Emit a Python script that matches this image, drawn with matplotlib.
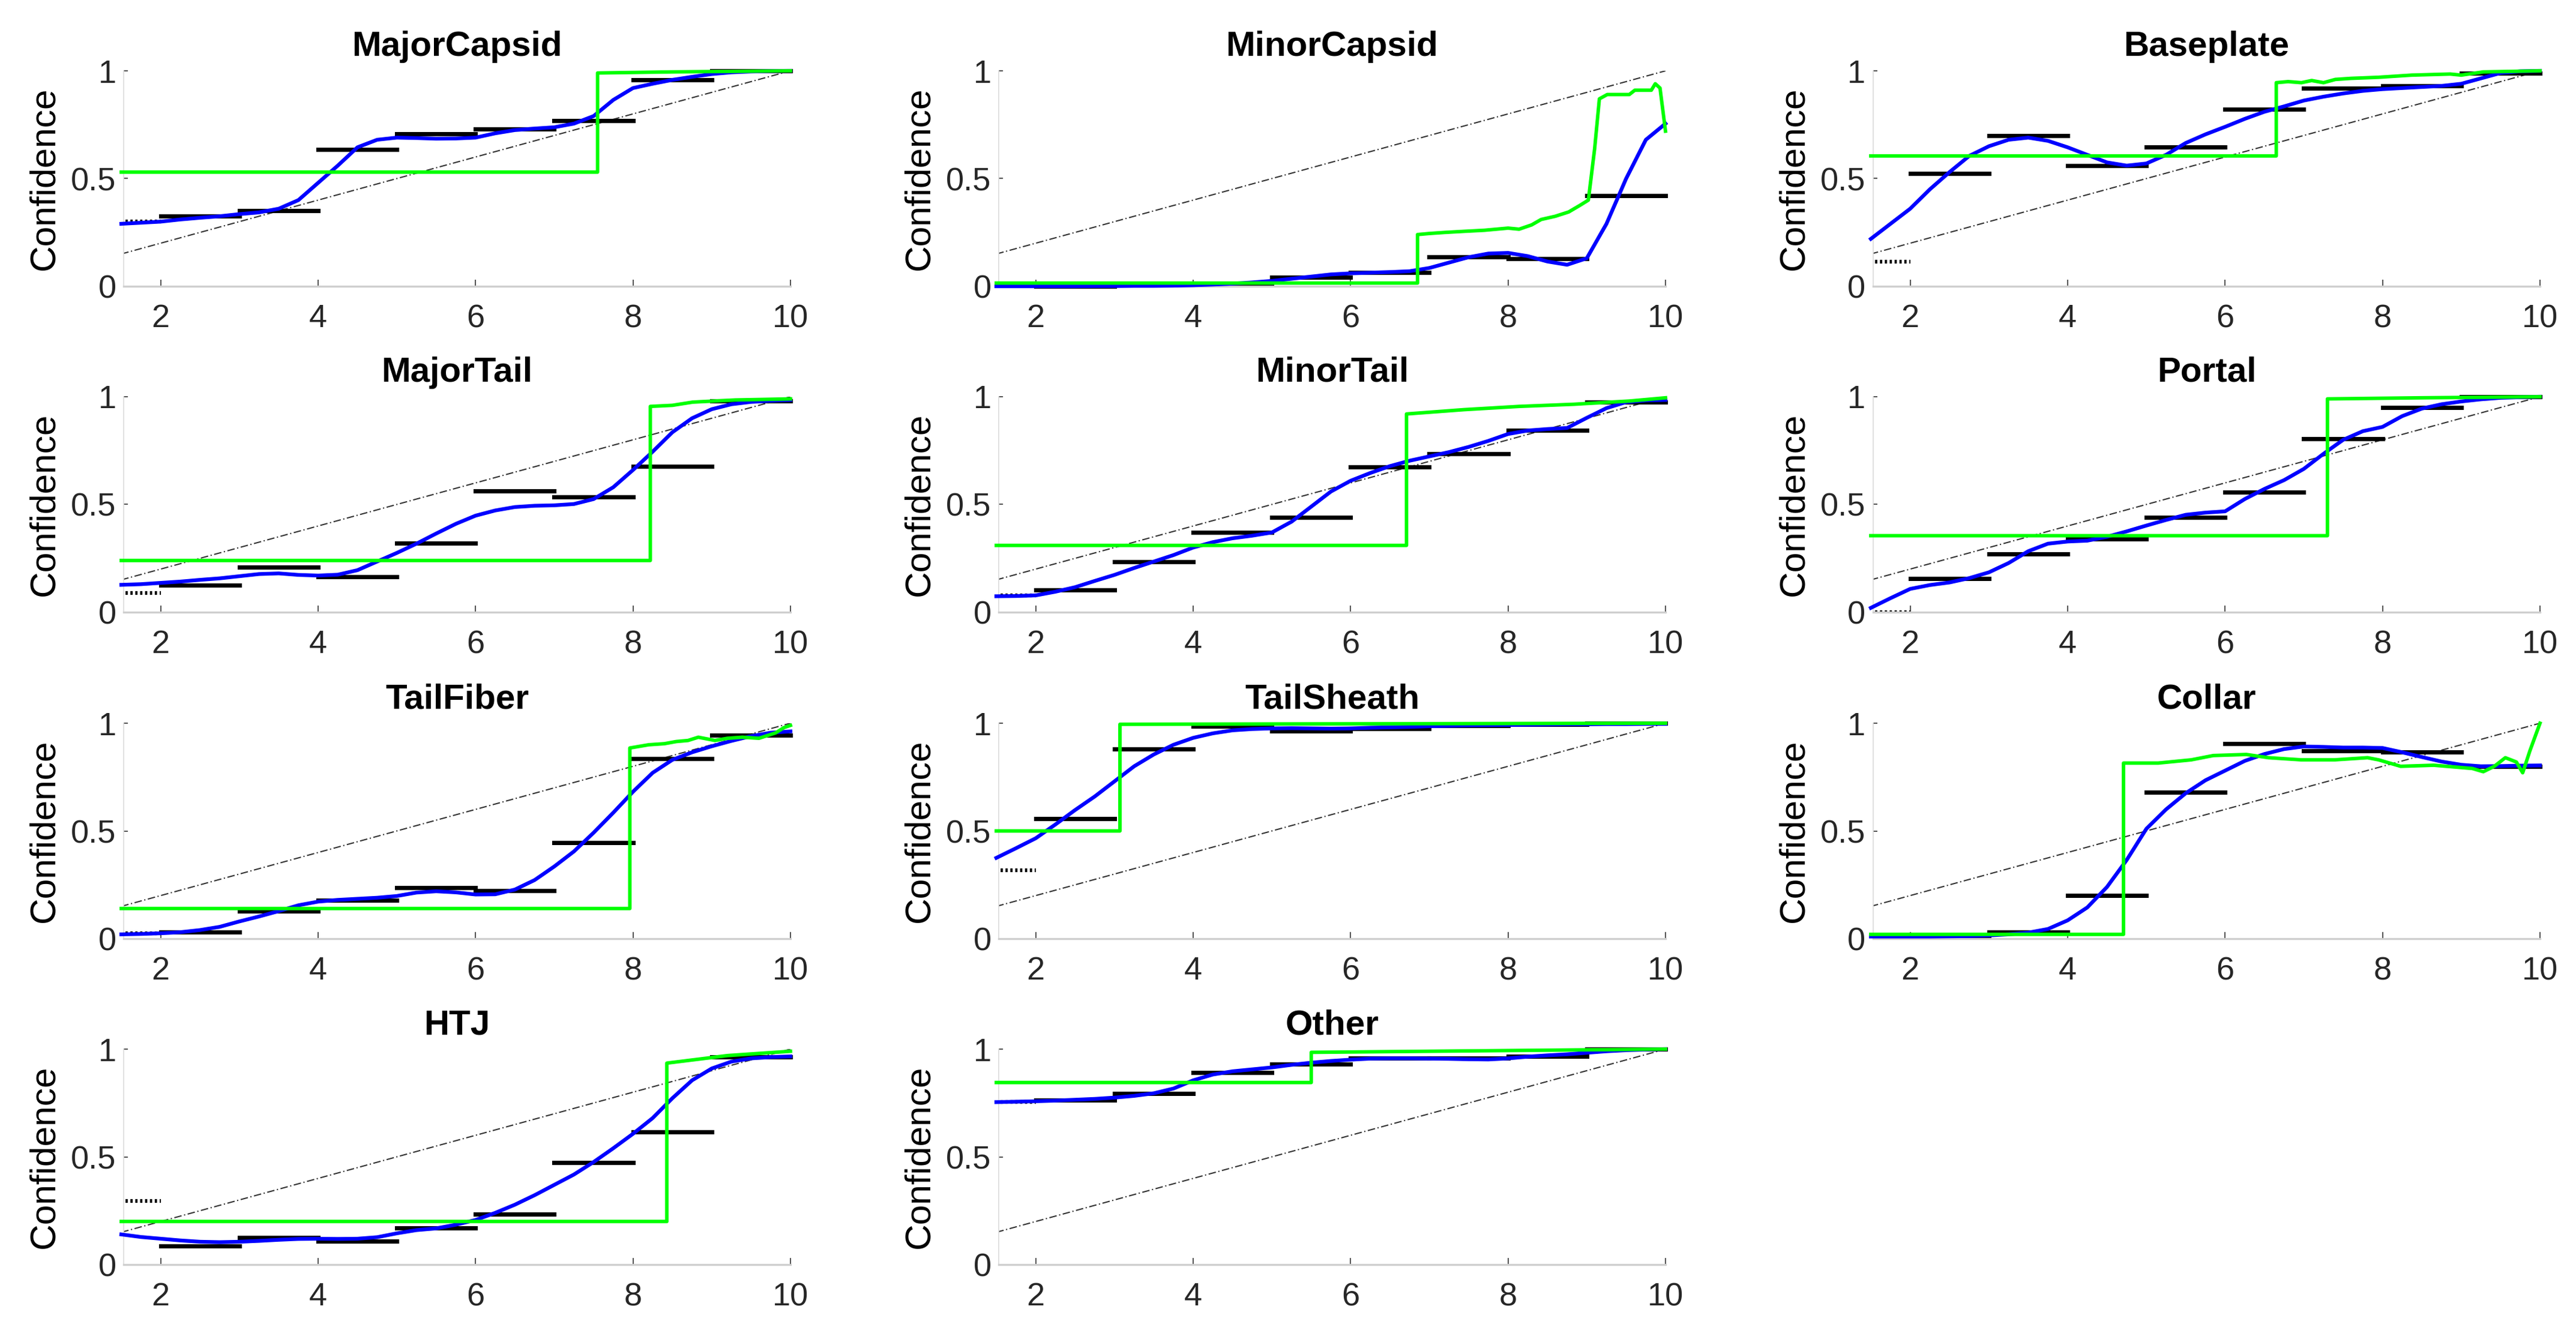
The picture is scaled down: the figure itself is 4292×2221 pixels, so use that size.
import matplotlib
matplotlib.use('Agg')
import matplotlib.pyplot as plt

plt.rcParams['font.family'] = ['Liberation Sans', 'DejaVu Sans']

# panel names, in reading order
PANELS = ['MajorCapsid', 'MinorCapsid', 'Baseplate',
          'MajorTail', 'MinorTail', 'Portal',
          'TailFiber', 'TailSheath', 'Collar',
          'HTJ', 'Other']

# bin edges for the black step segments (first bin drawn dotted)
BIN_EDGES = [1, 2, 3, 4, 5, 6, 7, 8, 9, 10]

# x grid of the blue curves
CURVE_X = [1.5, 1.75, 2.0, 2.25, 2.5, 2.75, 3.0, 3.25, 3.5, 3.75, 4.0, 4.25,
           4.5, 4.75, 5.0, 5.25, 5.5, 5.75, 6.0, 6.25, 6.5, 6.75, 7.0, 7.25,
           7.5, 7.75, 8.0, 8.25, 8.5, 8.75, 9.0, 9.25, 9.5, 9.75, 10.0]

# ---- MajorCapsid
majorcapsid_bins = [0.30, 0.327, 0.352, 0.635, 0.708, 0.73, 0.768, 0.957, 1.0]
majorcapsid_blue = [0.29, 0.295, 0.30, 0.31, 0.318, 0.325, 0.335, 0.343, 0.36, 0.40,
                    0.48, 0.56, 0.645, 0.68, 0.69, 0.688, 0.685, 0.686, 0.69, 0.71,
                    0.725, 0.732, 0.738, 0.755, 0.79, 0.865, 0.92, 0.94, 0.958, 0.972,
                    0.985, 0.993, 0.997, 0.999, 1.0]
majorcapsid_green_x = [1.5, 7.55, 7.55, 8.5, 10.0]
majorcapsid_green_y = [0.53, 0.53, 0.99, 0.995, 1.0]

# ---- MinorCapsid
minorcapsid_bins = [0.0, 0.0, 0.005, 0.012, 0.042, 0.065, 0.137, 0.127, 0.42]
minorcapsid_blue = [0.0, 0.0, 0.0, 0.0, 0.0, 0.001, 0.001, 0.002, 0.002, 0.003,
                    0.005, 0.008, 0.012, 0.018, 0.025, 0.035, 0.045, 0.055, 0.06, 0.063,
                    0.066, 0.07, 0.085, 0.11, 0.135, 0.152, 0.155, 0.14, 0.115, 0.10,
                    0.13, 0.29, 0.50, 0.68, 0.755]
minorcapsid_green_x = [1.5, 6.85, 6.85, 7.0, 7.2, 7.44, 7.7, 8.0, 8.14, 8.3, 8.42, 8.6,
                       8.77, 8.91, 9.02, 9.1, 9.16, 9.26, 9.54, 9.61, 9.82, 9.87, 9.93, 10.0]
minorcapsid_green_y = [0.015, 0.015, 0.24, 0.245, 0.25, 0.255, 0.26, 0.27, 0.265, 0.285,
                       0.31, 0.325, 0.345, 0.375, 0.40, 0.64, 0.87, 0.89, 0.89, 0.91,
                       0.91, 0.94, 0.92, 0.72]

# ---- Baseplate
baseplate_bins = [0.115, 0.525, 0.70, 0.56, 0.647, 0.823, 0.92, 0.93, 0.99]
baseplate_blue = [0.22, 0.29, 0.36, 0.45, 0.53, 0.605, 0.65, 0.68, 0.69, 0.675,
                  0.645, 0.61, 0.575, 0.56, 0.57, 0.61, 0.665, 0.705, 0.74, 0.777,
                  0.81, 0.835, 0.862, 0.88, 0.895, 0.907, 0.915, 0.92, 0.925, 0.93,
                  0.94, 0.965, 0.99, 0.998, 1.0]
baseplate_green_x = [1.5, 6.65, 6.65, 6.8, 6.97, 7.1, 7.25, 7.4, 7.6, 7.95, 8.37, 8.86,
                     9.0, 9.28, 10.0]
baseplate_green_y = [0.605, 0.605, 0.945, 0.95, 0.945, 0.955, 0.945, 0.96, 0.965, 0.97,
                     0.98, 0.985, 0.98, 0.995, 1.0]

# ---- MajorTail
majortail_bins = [0.088, 0.125, 0.209, 0.165, 0.32, 0.564, 0.534, 0.676, 0.98]
majortail_blue = [0.127, 0.13, 0.136, 0.142, 0.15, 0.157, 0.167, 0.177, 0.18, 0.173,
                  0.17, 0.174, 0.195, 0.235, 0.275, 0.318, 0.365, 0.41, 0.448, 0.472,
                  0.488, 0.494, 0.496, 0.502, 0.525, 0.58, 0.66, 0.745, 0.835, 0.90,
                  0.942, 0.965, 0.976, 0.981, 0.985]
majortail_green_x = [1.5, 8.22, 8.22, 8.5, 8.76, 9.3, 10.0]
majortail_green_y = [0.24, 0.24, 0.955, 0.96, 0.975, 0.985, 0.99]

# ---- MinorTail
minortail_bins = [0.078, 0.103, 0.233, 0.37, 0.44, 0.675, 0.735, 0.843, 0.976]
minortail_blue = [0.074, 0.075, 0.078, 0.095, 0.116, 0.145, 0.173, 0.205, 0.235, 0.265,
                  0.30, 0.325, 0.343, 0.355, 0.37, 0.42, 0.49, 0.56, 0.61, 0.646,
                  0.678, 0.703, 0.723, 0.743, 0.767, 0.795, 0.827, 0.843, 0.85, 0.855,
                  0.902, 0.947, 0.975, 0.983, 0.985]
minortail_green_x = [1.5, 6.71, 6.71, 7.44, 8.14, 8.84, 9.54, 10.0]
minortail_green_y = [0.31, 0.31, 0.92, 0.94, 0.955, 0.965, 0.98, 0.995]

# ---- Portal
portal_bins = [0.0, 0.157, 0.27, 0.341, 0.441, 0.556, 0.806, 0.951, 1.0]
portal_blue = [0.02, 0.065, 0.108, 0.126, 0.138, 0.158, 0.185, 0.228, 0.283, 0.318,
               0.328, 0.332, 0.35, 0.375, 0.402, 0.428, 0.452, 0.462, 0.468, 0.525,
               0.572, 0.613, 0.665, 0.735, 0.80, 0.84, 0.86, 0.91, 0.945, 0.965,
               0.978, 0.988, 0.995, 0.998, 1.0]
portal_green_x = [1.5, 7.3, 7.3, 8.5, 10.0]
portal_green_y = [0.355, 0.355, 0.99, 0.995, 1.0]

# ---- TailFiber
tailfiber_bins = [0.025, 0.032, 0.127, 0.179, 0.238, 0.223, 0.446, 0.836, 0.943]
tailfiber_blue = [0.02, 0.022, 0.025, 0.03, 0.04, 0.055, 0.08, 0.103, 0.128, 0.155,
                  0.172, 0.18, 0.185, 0.19, 0.198, 0.214, 0.22, 0.215, 0.205, 0.206,
                  0.228, 0.272, 0.335, 0.405, 0.492, 0.585, 0.682, 0.77, 0.83, 0.865,
                  0.893, 0.918, 0.94, 0.956, 0.962]
tailfiber_green_x = [1.5, 7.96, 7.96, 8.2, 8.4, 8.55, 8.7, 8.83, 9.04, 9.2, 9.39, 9.6,
                     9.81, 9.92, 10.0]
tailfiber_green_y = [0.14, 0.14, 0.885, 0.9, 0.905, 0.915, 0.92, 0.935, 0.92, 0.93,
                     0.935, 0.93, 0.955, 0.98, 0.99]

# ---- TailSheath
tailsheath_bins = [0.317, 0.556, 0.88, 0.985, 0.964, 0.974, 0.99, 0.995, 1.0]
tailsheath_blue = [0.375, 0.42, 0.466, 0.53, 0.597, 0.66, 0.73, 0.80, 0.855, 0.90,
                   0.932, 0.953, 0.967, 0.973, 0.976, 0.977, 0.976, 0.975, 0.976, 0.979,
                   0.981, 0.983, 0.986, 0.988, 0.99, 0.991, 0.992, 0.993, 0.994, 0.995,
                   0.995, 0.996, 0.996, 0.997, 0.997]
tailsheath_green_x = [1.5, 3.07, 3.07, 10.0]
tailsheath_green_y = [0.5, 0.5, 0.995, 1.0]

# ---- Collar
collar_bins = [0.0, 0.013, 0.03, 0.2, 0.68, 0.905, 0.873, 0.866, 0.80]
collar_blue = [0.01, 0.01, 0.01, 0.01, 0.011, 0.012, 0.015, 0.02, 0.028, 0.045,
               0.085, 0.145, 0.24, 0.365, 0.51, 0.60, 0.675, 0.735, 0.78, 0.825,
               0.857, 0.88, 0.892, 0.89, 0.887, 0.887, 0.885, 0.865, 0.843, 0.822,
               0.807, 0.80, 0.801, 0.803, 0.804]
collar_green_x = [1.5, 4.71, 4.71, 5.15, 5.57, 5.85, 6.27, 6.55, 6.97, 7.39, 7.81, 7.95,
                  8.23, 8.65, 9.14, 9.28, 9.42, 9.56, 9.7, 9.78, 9.87, 10.0]
collar_green_y = [0.02, 0.02, 0.815, 0.815, 0.83, 0.85, 0.855, 0.84, 0.83, 0.83, 0.84,
                  0.83, 0.80, 0.805, 0.79, 0.775, 0.80, 0.84, 0.82, 0.77, 0.87, 1.0]

# ---- HTJ
htj_bins = [0.296, 0.087, 0.124, 0.109, 0.17, 0.235, 0.473, 0.616, 0.963]
htj_blue = [0.14, 0.128, 0.12, 0.112, 0.106, 0.104, 0.106, 0.11, 0.115, 0.119,
            0.12, 0.119, 0.12, 0.127, 0.145, 0.16, 0.168, 0.185, 0.207, 0.24,
            0.278, 0.322, 0.37, 0.418, 0.476, 0.54, 0.607, 0.68, 0.772, 0.855,
            0.91, 0.942, 0.957, 0.963, 0.966]
htj_green_x = [1.5, 8.43, 8.43, 9.2, 10.0]
htj_green_y = [0.2, 0.2, 0.935, 0.97, 0.99]

# ---- Other
other_bins = [0.756, 0.764, 0.793, 0.891, 0.929, 0.958, 0.958, 0.966, 1.0]
other_blue = [0.754, 0.756, 0.758, 0.761, 0.765, 0.769, 0.775, 0.783, 0.795, 0.817,
              0.855, 0.882, 0.897, 0.906, 0.915, 0.927, 0.937, 0.945, 0.951, 0.956,
              0.957, 0.957, 0.956, 0.955, 0.953, 0.952, 0.957, 0.965, 0.971, 0.976,
              0.983, 0.99, 0.995, 0.998, 1.0]
other_green_x = [1.5, 5.5, 5.5, 10.0]
other_green_y = [0.845, 0.845, 0.985, 1.0]

# diagonal reference line
DIAG_X = [1.5, 10.0]
DIAG_Y = [0.15, 1.0]

BINS = [majorcapsid_bins, minorcapsid_bins, baseplate_bins, majortail_bins,
        minortail_bins, portal_bins, tailfiber_bins, tailsheath_bins,
        collar_bins, htj_bins, other_bins]
BLUES = [majorcapsid_blue, minorcapsid_blue, baseplate_blue, majortail_blue,
         minortail_blue, portal_blue, tailfiber_blue, tailsheath_blue,
         collar_blue, htj_blue, other_blue]
GREENS = [(majorcapsid_green_x, majorcapsid_green_y),
          (minorcapsid_green_x, minorcapsid_green_y),
          (baseplate_green_x, baseplate_green_y),
          (majortail_green_x, majortail_green_y),
          (minortail_green_x, minortail_green_y),
          (portal_green_x, portal_green_y),
          (tailfiber_green_x, tailfiber_green_y),
          (tailsheath_green_x, tailsheath_green_y),
          (collar_green_x, collar_green_y),
          (htj_green_x, htj_green_y),
          (other_green_x, other_green_y)]


def main():
    W, H = 4292, 2221
    fig = plt.figure(figsize=(W / 300, H / 300), dpi=300)

    col_left = [206, 1664, 3121]
    row_top = [118, 661, 1205, 1748]
    aw, ah = 1111, 359

    for i, name in enumerate(PANELS):
        r, c = divmod(i, 3)
        ax = fig.add_axes([col_left[c] / W, 1 - (row_top[r] + ah) / H, aw / W, ah / H])

        # diagonal
        ax.plot(DIAG_X, DIAG_Y, color='#333333', lw=0.5, dashes=(6, 2, 1, 2))

        # blue smooth curve
        ax.plot(CURVE_X, BLUES[i], color='#0000ff', lw=1.5, clip_on=False, zorder=3)

        # black bins
        b = BINS[i]
        for k in range(len(b)):
            x0, x1 = BIN_EDGES[k], BIN_EDGES[k + 1]
            if k == 0:
                ax.plot([x0, x1], [b[k], b[k]], color='black', lw=1.5,
                        ls=(0, (0.6, 0.7)), zorder=2)
            else:
                ax.plot([x0, x1], [b[k], b[k]], color='black', lw=1.7,
                        clip_on=False, zorder=2)

        # green empirical curve
        gx, gy = GREENS[i]
        ax.plot(gx, gy, color='#00ff00', lw=1.4, clip_on=False, zorder=4)

        ax.set_xlim(1.53, 10)
        ax.set_ylim(0, 1)
        ax.set_xticks([2, 4, 6, 8, 10])
        ax.set_yticks([0, 0.5, 1])
        ax.set_yticklabels(['0', '0.5', '1'])

        for s in ['top', 'right']:
            ax.spines[s].set_visible(False)
        ax.spines['bottom'].set_color('#cfcfcf')
        ax.spines['bottom'].set_linewidth(0.8)
        ax.spines['left'].set_color('#dcdcdc')
        ax.spines['left'].set_linewidth(0.4)

        ax.tick_params(axis='x', direction='in', length=2.6, width=0.4,
                       color='#333333', labelsize=13, labelcolor='#262626', pad=7)
        ax.tick_params(axis='y', direction='in', length=1.6, width=0.4,
                       color='#333333', labelsize=13, labelcolor='#262626', pad=3)

        ax.set_title(name, fontsize=14, fontweight='bold', pad=6)
        ax.set_ylabel('Confidence', fontsize=14.5, labelpad=4)

    fig.savefig('out.png', dpi=300)


if __name__ == '__main__':
    main()
